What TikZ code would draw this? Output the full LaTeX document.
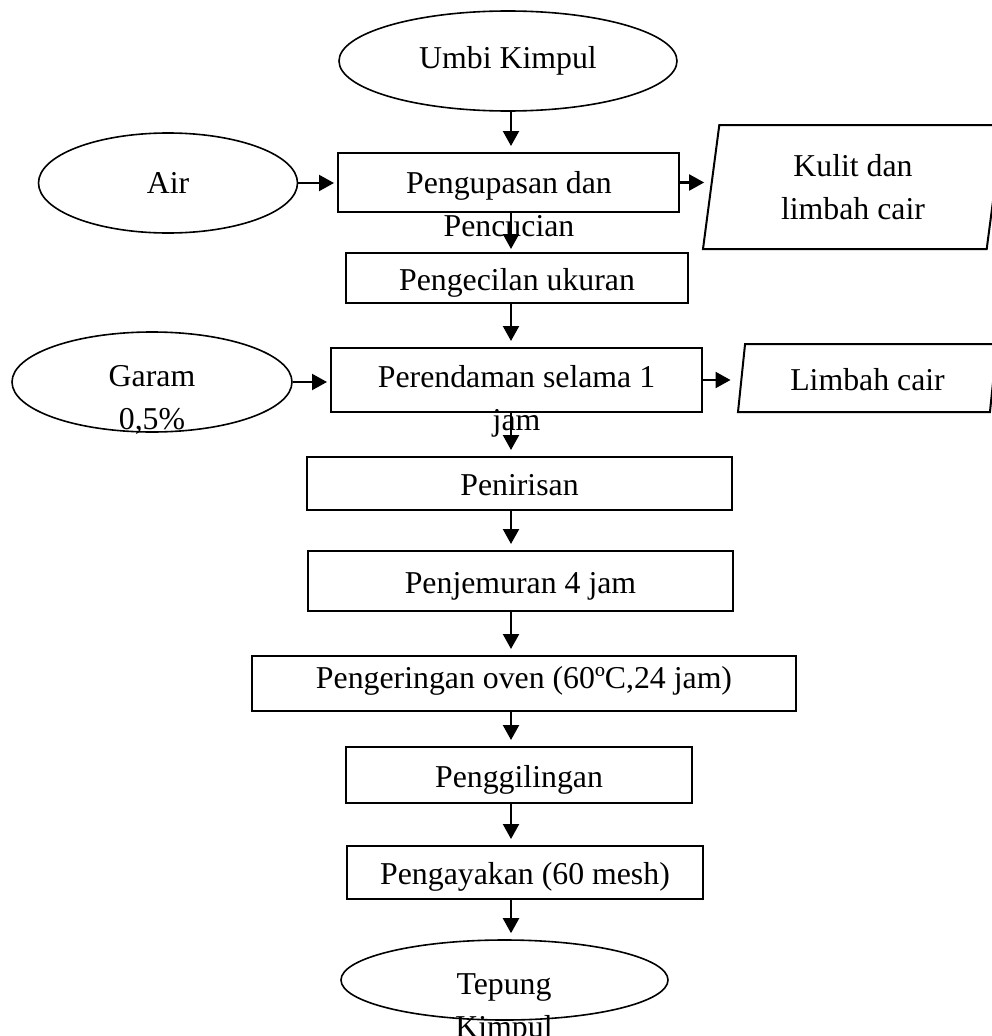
\documentclass[tikz,border=0pt]{standalone}
\usepackage{fontspec}
\setmainfont{Liberation Serif}
\usetikzlibrary{arrows.meta,shapes.geometric}

\begin{document}
\begin{tikzpicture}[x=1pt,y=-1pt,
    every node/.style={font=\fontsize{31.8}{43}\selectfont, inner sep=0pt, align=center},
    proc/.style={draw, line width=2pt, text height=24pt, text depth=0pt},
    oval/.style={draw, ellipse, line width=1.6pt},
    waste/.style={draw, trapezium, trapezium stretches body, line width=2pt},
    arr/.style={-{Triangle[length=15pt,width=16pt]}, line width=2.2pt, shorten >=6pt}]
    \useasboundingbox (0,0) rectangle (992,1036);
    \coordinate (spine) at (511,0);

    % inputs
    \node[oval, minimum width=338pt, minimum height=100pt] (umbi) at (508,61) {Umbi Kimpul};
    \node[oval, minimum width=259pt, minimum height=100pt] (air) at (168,183) {Air};
    \node[oval, minimum width=280pt, minimum height=100pt] (garam) at (152,382) {};
    \node[anchor=base] (tgaram) at (152,429) {Garam\\0,5\%};

    % process steps
    \node[proc, minimum width=341pt, minimum height=59pt] (kupas) at (508.5,182.5) {};
    \node[anchor=base] (tkupas) at (509,236) {Pengupasan dan\\Pencucian};
    \node[proc, minimum width=342pt, minimum height=50pt] (kecil) at (517,278) {Pengecilan ukuran};
    \node[proc, minimum width=371pt, minimum height=64pt] (rendam) at (516.5,380) {};
    \node[anchor=base] (trendam) at (516.5,430) {Perendaman selama 1\\jam};
    \node[proc, minimum width=425pt, minimum height=53pt] (tiris) at (519.5,483.5) {Penirisan};
    \node[proc, minimum width=425pt, minimum height=60pt] (jemur) at (520.5,581) {Penjemuran 4 jam};
    \node[proc, minimum width=544pt, minimum height=55pt, text depth=14pt] (kering) at (524,683.5) {Pengeringan oven (60ºC,24 jam)};
    \node[proc, minimum width=346pt, minimum height=56pt] (giling) at (519,775) {Penggilingan};
    \node[proc, minimum width=356pt, minimum height=53pt] (ayak) at (525,872.5) {Pengayakan (60 mesh)};

    % outputs
    \node[waste, trapezium left angle=76, trapezium right angle=104,
          minimum width=300pt, minimum height=124pt] (kulit) at (853,187) {Kulit dan\\limbah cair};
    \node[waste, trapezium left angle=73.6, trapezium right angle=106.4, text height=24pt, text depth=0pt,
          minimum width=259pt, minimum height=68pt] (limbah) at (867.5,378) {Limbah cair};
    \node[oval, minimum width=327pt, minimum height=80pt] (tepung) at (504.5,980) {};
    \node[anchor=base] (ttepung) at (504,1037) {Tepung\\Kimpul};

    % main flow
    \draw[arr] (umbi.south -| spine) -- (kupas.north -| spine);
    \draw[arr,shorten >=3pt] (kupas.south -| spine) -- (kecil.north -| spine);
    \draw[arr] (kecil.south -| spine) -- (rendam.north -| spine);
    \draw[arr] (rendam.south -| spine) -- (tiris.north -| spine);
    \draw[arr] (tiris.south -| spine) -- (jemur.north -| spine);
    \draw[arr] (jemur.south -| spine) -- (kering.north -| spine);
    \draw[arr] (kering.south -| spine) -- (giling.north -| spine);
    \draw[arr] (giling.south -| spine) -- (ayak.north -| spine);
    \draw[arr] (ayak.south -| spine) -- (tepung.north -| spine);

    % side flows
    \draw[arr,shorten >=3pt] (air.east) -- (air.east -| kupas.west);
    \draw[arr,shorten >=3pt] (garam.east) -- (garam.east -| rendam.west);
    \draw[arr] (kupas.east) -- (kupas.east -| kulit.west);
    \draw[arr,shorten >=10pt] (rendam.east) -- (rendam.east -| limbah.west);
\end{tikzpicture}
\end{document}
